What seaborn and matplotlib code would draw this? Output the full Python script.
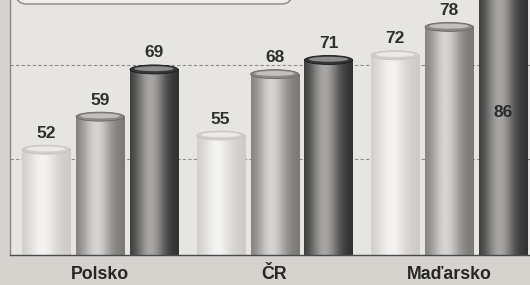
import numpy as np
import pandas as pd
import matplotlib
matplotlib.use("Agg")
import matplotlib.pyplot as plt
import seaborn as sns
from matplotlib import font_manager
from matplotlib.colors import LinearSegmentedColormap
from matplotlib.patches import Ellipse, FancyBboxPatch

# ---- data ----
countries = ["Polsko", "ČR", "Maďarsko"]
series = ["řada 1", "řada 2", "řada 3"]
vals_s1 = [52, 55, 72]
vals_s2 = [59, 68, 78]
vals_s3 = [69, 71, 86]

rows = []
for s, vals in zip(series, [vals_s1, vals_s2, vals_s3]):
    for c, v in zip(countries, vals):
        rows.append({"country": c, "series": s, "value": v})
df = pd.DataFrame(rows)

# ---- style ----
sns.set_style("white")
names = {f.name for f in font_manager.fontManager.ttflist}
NARROW = "Liberation Sans Narrow" in names
cat_family = ["Liberation Sans Narrow", "DejaVu Sans"] if NARROW else ["Liberation Sans", "DejaVu Sans"]
cat_size = 15 if NARROW else 12.8
val_family = ["Liberation Sans", "DejaVu Sans"]

mids = ["#e2e0dd", "#a9a7a5", "#5a5958"]
darks = ["#c6c3c0", "#696765", "#1a1a1a"]
lights = ["#f4f3f1", "#d6d4d2", "#a8a6a4"]
cap_outer = ["#d0cdca", "#8b8987", "#363636"]
cap_inner = ["#ebe9e6", "#c2c0be", "#8e8c8a"]

fig = plt.figure(figsize=(5.3, 2.85), dpi=100, facecolor="#d6d3cf")
ax = fig.add_axes([10 / 530, 30 / 285, 520 / 530, 255 / 285])
ax.set_facecolor("#e7e5e2")

sns.barplot(data=df, x="country", y="value", hue="series", palette=mids,
            width=0.928, gap=0.11, errorbar=None, saturation=1,
            legend=False, ax=ax, zorder=2)

YLO, YHI = 29.7, 83.7
XLO, XHI = -0.516, 2.464
px_per_unit = 255 / (YHI - YLO)

t = np.linspace(0, 1, 96)
shade = 0.15 + 0.85 * np.exp(-((t - 0.42) / 0.30) ** 2)

bars = sorted(ax.patches, key=lambda p: p.get_x())
cap_h = 9 / px_per_unit
for i, p in enumerate(bars):
    s = i % 3
    x0, y0, w, h = p.get_x(), p.get_y(), p.get_width(), p.get_height()
    p.set_edgecolor("none")
    top = y0 + h
    cmap = LinearSegmentedColormap.from_list(f"c{i}", [darks[s], lights[s]])
    ax.imshow(shade[None, :], cmap=cmap, vmin=0, vmax=1,
              extent=[x0, x0 + w, YLO, min(top, YHI)], aspect="auto",
              interpolation="bilinear", zorder=2.1)
    xc = x0 + w / 2
    ax.add_patch(Ellipse((xc, top), w, cap_h, facecolor=cap_outer[s],
                         edgecolor=darks[s], lw=0.6, zorder=2.2))
    ax.add_patch(Ellipse((xc, top + cap_h * 0.08), w * 0.82, cap_h * 0.55,
                         facecolor=cap_inner[s], edgecolor="none", zorder=2.3))
    if top + cap_h / 2 + 20 / px_per_unit < YHI:
        ax.text(xc, top + (4.5 + 7.5) / px_per_unit, f"{h:.0f}", ha="center",
                va="baseline", fontsize=12.5, fontweight="bold",
                family=val_family, color="#2f2f2f", zorder=3)
    else:
        ax.text(xc, YLO + 0.56 * (YHI - YLO), f"{h:.0f}", ha="center",
                va="center", fontsize=12.5, fontweight="bold",
                family=val_family, color="#2a2a2a", zorder=3)

ax.set_xlim(XLO, XHI)
ax.set_ylim(YLO, YHI)
ax.set_yticks([50, 70])
ax.set_yticklabels([])
ax.tick_params(axis="y", length=0)
ax.yaxis.grid(True, linestyle=(0, (3, 2)), color="#8f8d8a", lw=0.8)
ax.set_axisbelow(True)
ax.set_xlabel("")
ax.set_ylabel("")
ax.tick_params(axis="x", length=0, pad=17.5)
for lab in ax.get_xticklabels():
    lab.set_fontfamily(cat_family)
    lab.set_fontsize(cat_size)
    lab.set_fontweight("bold")
    lab.set_color("#262626")
    lab.set_verticalalignment("baseline")

for side in ["top", "right"]:
    ax.spines[side].set_visible(False)
ax.spines["left"].set_color("#8a8886")
ax.spines["left"].set_linewidth(1.0)
ax.spines["bottom"].set_color("#4a4a4a")
ax.spines["bottom"].set_linewidth(1.0)

box = FancyBboxPatch((16 / 530, 1 - 4 / 285), 276 / 530, 0.2,
                     boxstyle="round,pad=0,rounding_size=0.02",
                     mutation_aspect=530 / 285,
                     transform=fig.transFigure, facecolor="#efeeec",
                     edgecolor="#8a8886", lw=1.0, clip_on=False)
fig.patches.append(box)

fig.savefig("out.png", dpi=100, facecolor=fig.get_facecolor())
